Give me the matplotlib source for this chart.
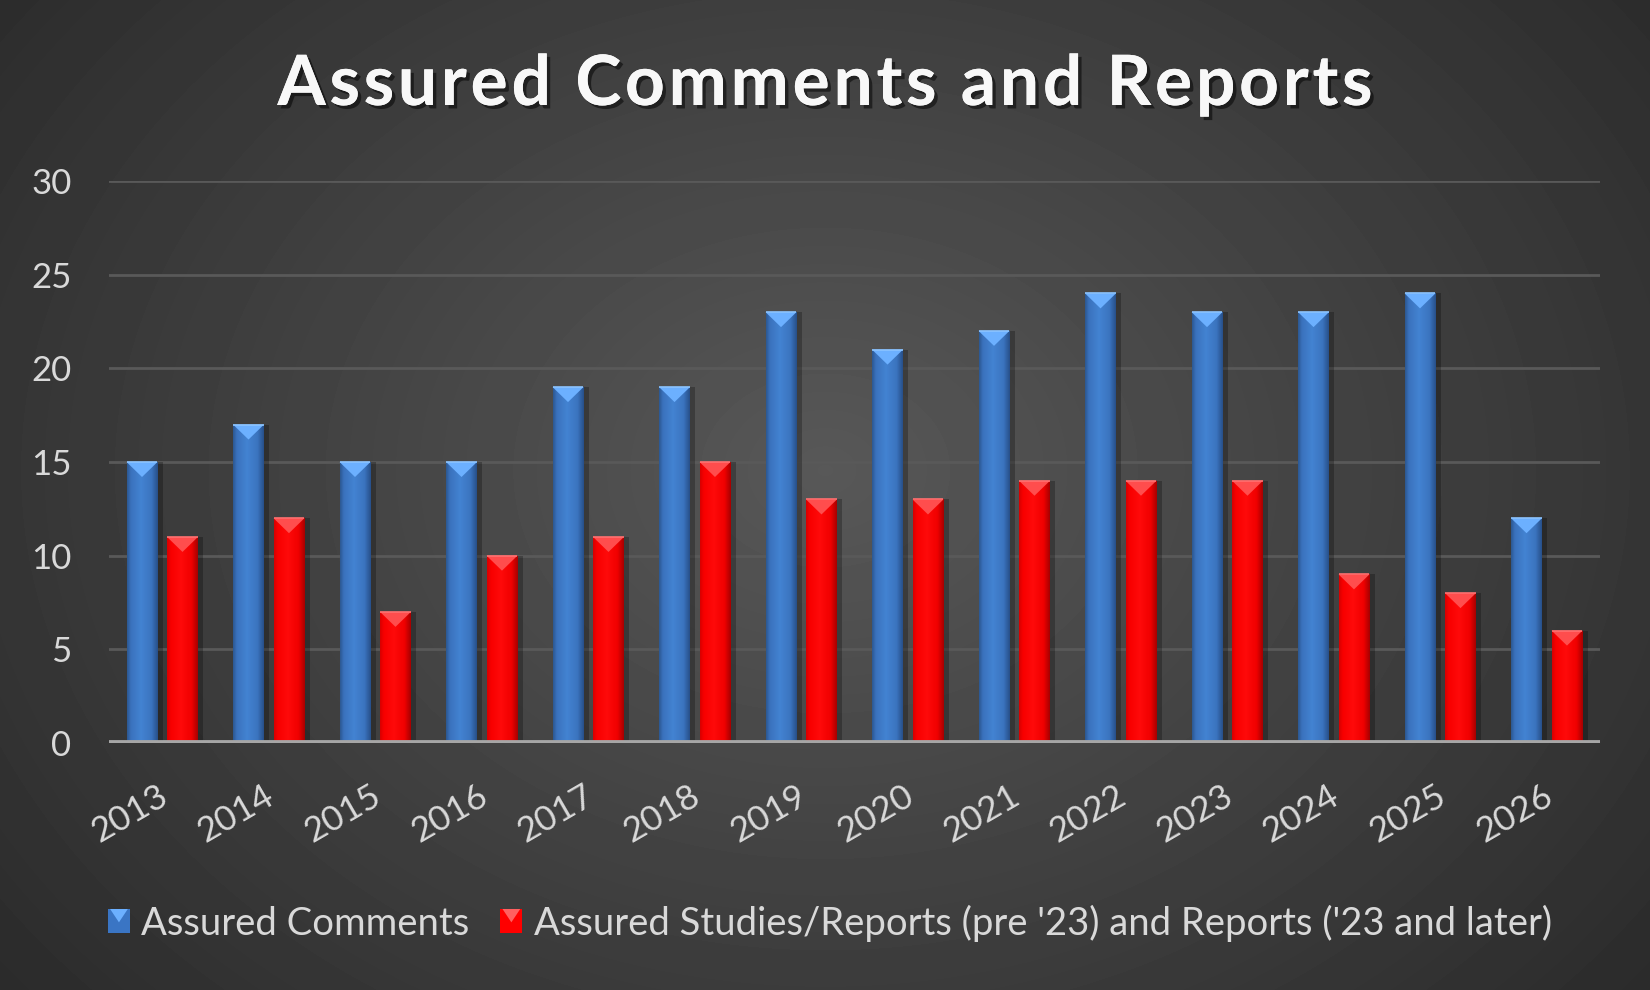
import numpy as np
import matplotlib
matplotlib.use('Agg')
import matplotlib.pyplot as plt
from matplotlib.patches import Polygon, Rectangle, Patch
from matplotlib.legend_handler import HandlerBase
import matplotlib.patheffects as pe
import matplotlib.transforms as mtrans

# ---------------- data ----------------
years = ["2013", "2014", "2015", "2016", "2017", "2018", "2019",
         "2020", "2021", "2022", "2023", "2024", "2025", "2026"]
comments = [15, 17, 15, 15, 19, 19, 23, 21, 22, 24, 23, 23, 24, 12]
reports = [11, 12, 7, 10, 11, 15, 13, 13, 14, 14, 14, 9, 8, 6]
series_labels = ["Assured Comments",
                 "Assured Studies/Reports (pre '23) and Reports ('23 and later)"]
title = "Assured Comments and Reports"
yticks = [0, 5, 10, 15, 20, 25, 30]

plt.rcParams['font.family'] = ['Lato', 'DejaVu Sans']

W, H = 1650, 990
fig = plt.figure(figsize=(W / 100, H / 100), dpi=100)

# ---------------- background radial gradient ----------------
bg = fig.add_axes([0, 0, 1, 1], zorder=-10)
yy, xx = np.mgrid[0:H, 0:W]
r = np.sqrt(((xx - 825) / 900.0) ** 2 + ((yy - 470) / 700.0) ** 2)
val = np.clip(0.345 - 0.15 * r, 0.16, 0.4)
bg.imshow(val, cmap='gray', vmin=0, vmax=1, aspect='auto',
          extent=[0, 1, 0, 1], interpolation='bilinear')
bg.set_axis_off()

# ---------------- main axes ----------------
ax = fig.add_axes([109 / W, 1 - 743 / H, (1600 - 109) / W, (743 - 181) / H])
ax.set_facecolor('none')
for s in ax.spines.values():
    s.set_visible(False)

x = np.arange(len(years))
bw = 0.29
off = 0.19

blue_prof = [(0.0, '#2c5892'), (0.12, '#3a72bd'), (0.45, '#4383d2'),
             (0.8, '#3b74bf'), (1.0, '#27508a')]
red_prof = [(0.0, '#d80000'), (0.12, '#f80000'), (0.45, '#ff0a0a'),
            (0.8, '#f00000'), (1.0, '#a80000')]


def grad_img(prof):
    from matplotlib.colors import LinearSegmentedColormap
    cm = LinearSegmentedColormap.from_list('p', prof)
    g = np.linspace(0, 1, 64)[None, :]
    return cm(g)


ppu = ax.get_position().height * H / 30.0  # pixels per y unit
cap_depth = 15.0 / ppu

bars_c = ax.bar(x - off, comments, bw, color='#3a75c4', zorder=3)
bars_r = ax.bar(x + off, reports, bw, color='#ff0000', zorder=3)

for bars, prof, capc, capc2 in ((bars_c, blue_prof, '#6cb0ff', '#8cc4ff'),
                                (bars_r, red_prof, '#ff4d4d', '#ff7070')):
    img = grad_img(prof)
    for b in bars:
        x0, w, h = b.get_x(), b.get_width(), b.get_height()
        ax.add_patch(Rectangle((x0 + w, 0), 0.05, h, color='black', alpha=0.25,
                               zorder=2, lw=0))
        im = ax.imshow(img, extent=[x0, x0 + w, 0, h], aspect='auto', zorder=4,
                       interpolation='bilinear')
        im.set_clip_path(b)
        tri = Polygon([[x0, h], [x0 + w, h], [x0 + w / 2, h - cap_depth]],
                      closed=True, facecolor=capc, edgecolor='none', zorder=5)
        ax.add_patch(tri)
        ax.plot([x0, x0 + w], [h, h], color=capc2, lw=1.2, zorder=6,
                solid_capstyle='butt')

ax.set_xlim(-0.5, len(years) - 0.5)
ax.set_ylim(0, 30)
ax.set_yticks(yticks)
ax.yaxis.grid(True, color='#595959', lw=2.0, zorder=0)
ax.set_axisbelow(True)
ax.axhline(0, color='#a6a6a6', lw=4.2, zorder=8)

ax.tick_params(axis='y', length=0, pad=27, labelsize=25, labelcolor='#d9d9d9')
ax.tick_params(axis='x', length=0, pad=26, labelsize=25.5, labelcolor='#d9d9d9')
ax.set_xticks(x)
ax.set_xticklabels(years, rotation=30, ha='right', va='top',
                   rotation_mode='anchor')
shift = mtrans.ScaledTranslation(-5 / 100, 0, fig.dpi_scale_trans)
for lab in ax.get_xticklabels():
    lab.set_transform(lab.get_transform() + shift)

# ---------------- title with letter spacing ----------------
renderer = fig.canvas.get_renderer()
tkw = dict(fontsize=50, fontweight='bold', color='#f8f8f8')
target_w = 1095.0
prefix_w = []
for i in range(len(title) + 1):
    if i == 0:
        prefix_w.append(0.0)
        continue
    t = fig.text(0, 0, title[:i].replace(' ', '\u00a0'), **tkw)
    prefix_w.append(t.get_window_extent(renderer).width)
    t.remove()
natural = prefix_w[-1]
track = (target_w - natural) / (len(title) - 1)
x_start = (W - target_w) / 2.0
base_y = 1 - 105 / H
shadow = [pe.withSimplePatchShadow(offset=(2.5, -2.5), shadow_rgbFace='black',
                                   alpha=0.5), pe.Normal()]
for i, ch in enumerate(title):
    if ch == ' ':
        continue
    px = x_start + prefix_w[i] + track * i
    fig.text(px / W, base_y, ch, ha='left', va='baseline', path_effects=shadow,
             **tkw)


# ---------------- legend ----------------
class CapHandler(HandlerBase):
    def __init__(self, face, cap):
        super().__init__()
        self.face, self.cap = face, cap

    def create_artists(self, legend, orig_handle, xdescent, ydescent, width,
                       height, fontsize, trans):
        r = Rectangle((-xdescent, -ydescent), width, height, facecolor=self.face,
                      edgecolor='none', transform=trans)
        t = Polygon([[-xdescent + width * 0.1, -ydescent + height],
                     [-xdescent + width * 0.9, -ydescent + height],
                     [-xdescent + width / 2, -ydescent + height * 0.45]],
                    facecolor=self.cap, edgecolor='none', transform=trans)
        return [r, t]


h1 = Patch(facecolor='#3a75c4')
h2 = Patch(facecolor='#ff0000')
leg = fig.legend([h1, h2], series_labels, loc='center', ncol=2,
                 bbox_to_anchor=(0.503, 1 - 923 / H), frameon=False,
                 fontsize=27.5, labelcolor='#d9d9d9', handlelength=0.58,
                 handleheight=0.6, handletextpad=0.3, columnspacing=0.8,
                 handler_map={h1: CapHandler('#3a75c4', '#6cb0ff'),
                              h2: CapHandler('#ff0000', '#ff6060')})

fig.savefig('out.png', dpi=100)
